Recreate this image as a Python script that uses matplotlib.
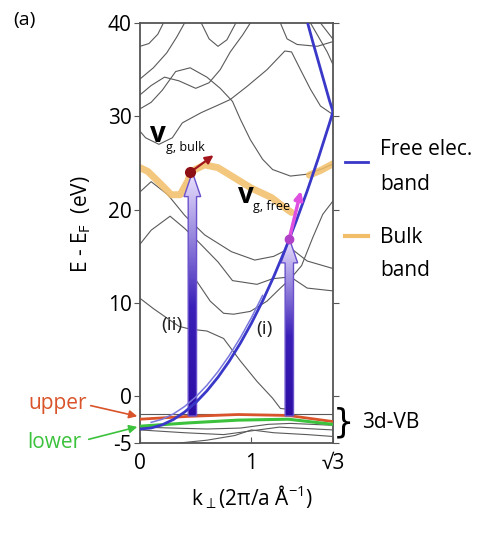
import numpy as np
import matplotlib.pyplot as plt
from matplotlib.patches import Polygon
from matplotlib.colors import LinearSegmentedColormap

plt.rcParams['font.family'] = ['Open Sans', 'DejaVu Sans']
plt.rcParams['axes.unicode_minus'] = False

# free electron band
free_k = [0, 0.1, 0.2, 0.3, 0.4, 0.5, 0.6, 0.7, 0.8, 0.9, 1.0, 1.1, 1.2, 1.3, 1.4, 1.5, 1.6, 1.7, 1.732]
free_e = [-3.5, -3.39, -3.05, -2.48, -1.69, -0.67, 0.58, 2.05, 3.75, 5.68, 7.83, 10.21,
          12.82, 15.65, 18.71, 21.99, 25.5, 29.24, 30.5]
fold_k = [1.732, 1.7, 1.65, 1.6, 1.55, 1.5]
fold_e = [30.5, 31.7, 33.8, 35.9, 38.0, 40.2]

# bulk band (orange)
bulk_k = [0, 0.07, 0.19, 0.28, 0.36, 0.43, 0.46, 0.58, 0.70, 0.85, 1.0, 1.18, 1.30, 1.36]
bulk_e = [24.5, 24.1, 22.7, 21.6, 21.6, 23.1, 24.1, 24.8, 24.5, 23.4, 22.3, 21.3, 20.2, 19.7]
bulk2_k = [1.52, 1.62, 1.73]
bulk2_e = [23.7, 24.2, 24.9]

# 3d valence bands
upper_k = [0, 0.43, 0.88, 1.33, 1.73]
upper_e = [-2.45, -2.15, -1.95, -2.05, -2.7]
lower_k = [0, 0.43, 0.88, 1.33, 1.73]
lower_e = [-3.2, -2.85, -2.55, -2.45, -3.0]

# other calculated bands (gray), (k, E) pairs
band_a = [(0, 37.5), (0.08, 37.8), (0.16, 38.8), (0.21, 40)]
band_b = [(0, 34.0), (0.12, 35.2), (0.24, 36.8), (0.33, 38.5), (0.40, 40)]
band_c = [(0.55, 40), (0.62, 38.3), (0.70, 37.5), (0.78, 38.2), (0.86, 40)]
band_d = [(0, 32.3), (0.1, 33.3), (0.22, 34.2), (0.35, 33.8), (0.5, 33.0), (0.62, 33.6),
          (0.72, 35.0), (0.81, 36.9), (0.92, 38.7), (0.99, 40)]
band_e = [(0, 28.4), (0.05, 27.7), (0.17, 27.0), (0.29, 27.7), (0.38, 29.3), (0.55, 30.4),
          (0.7, 31.2), (0.81, 31.8), (0.96, 33.2), (1.14, 35), (1.30, 37), (1.36, 36.9),
          (1.44, 35), (1.53, 32.9), (1.62, 31.1), (1.73, 30.2)]
band_f = [(0, 30.8), (0.1, 31.5), (0.2, 32.8), (0.32, 34.8), (0.45, 35.2), (0.6, 34.2),
          (0.72, 33.0), (0.83, 31.6), (0.90, 29.7), (0.99, 27.5), (1.10, 25.4), (1.19, 24.3),
          (1.35, 23.6), (1.5, 23.8), (1.64, 24.4), (1.73, 24.9)]
band_g = [(1.26, 40), (1.32, 38.3), (1.41, 37.7), (1.59, 37.5), (1.73, 38.0)]
band_h = [(1.53, 40), (1.68, 36.9), (1.73, 35.6)]
band_i = [(1.62, 40), (1.73, 38.3)]
band_j = [(0, 21.9), (0.1, 23), (0.25, 21.6), (0.4, 19.4), (0.58, 17.3), (0.82, 15.5),
          (1.03, 14.6), (1.2, 15.0), (1.35, 15.9), (1.5, 14.5), (1.73, 13.7)]
band_k = [(0, 16.3), (0.1, 17.8), (0.27, 19.3), (0.4, 18), (0.52, 16.6), (0.7, 14.4),
          (0.83, 12.4), (1.05, 12), (1.19, 12.6), (1.35, 12.8), (1.5, 11.6), (1.73, 11.3)]
band_l = [(0.5, 12.5), (0.63, 10.2), (0.75, 8.9), (0.84, 8.8), (0.99, 9.1), (1.14, 10.2),
          (1.26, 11.6), (1.35, 12.6), (1.45, 14), (1.55, 17), (1.64, 19.5), (1.73, 20.9)]
band_m = [(0, 10.5), (0.12, 9.4), (0.24, 8.4), (0.35, 7.5), (0.45, 7.2), (0.6, 7),
          (0.75, 6.2), (0.9, 3.8), (1.05, 1.6), (1.19, -0.2), (1.26, -1.3), (1.34, -1.4)]
band_n = [(0, -1.86), (1.73, -1.86)]
band_o = [(0, -3.3), (0.3, -3.4), (0.6, -3.5), (0.9, -3.4), (1.15, -3.0), (1.35, -2.9), (1.73, -3.1)]
band_p = [(0, -3.6), (0.4, -3.9), (0.75, -4.1), (1.0, -3.7), (1.25, -3.3), (1.73, -3.6)]
band_q = [(0.35, -5), (0.6, -4.7), (0.85, -4.2), (1.0, -3.6), (1.2, -3.9), (1.5, -4.1), (1.73, -4.3)]
gray_bands = [band_a, band_b, band_c, band_d, band_e, band_f, band_g, band_h, band_i,
              band_j, band_k, band_l, band_m, band_n, band_o, band_p, band_q]

# transitions (i) and (ii)
trans_k = [1.34, 0.47]
trans_bottom = [-2.1, -2.1]
trans_top = [16.9, 24.0]

W, H = 489, 533
fig = plt.figure(figsize=(W / 100, H / 100), dpi=100)
ax = fig.add_axes([140 / W, 1 - 443 / H, 193 / W, 420 / H])

for b in gray_bands:
    bk, be = zip(*b)
    ax.plot(bk, be, color='#5a5a5a', lw=0.8, zorder=1)

ax.plot(bulk_k, bulk_e, color='#f2bd68', lw=5, alpha=0.85, solid_capstyle='round', zorder=2)
ax.plot(bulk2_k, bulk2_e, color='#f2bd68', lw=5, alpha=0.85, solid_capstyle='round', zorder=2)
ax.plot(upper_k, upper_e, color='#d9542a', lw=2, zorder=3)
ax.plot(lower_k, lower_e, color='#3cc23c', lw=2.2, zorder=3)

# free electron band, drawn doubled near the bottom like the original
ax.plot(free_k, free_e, color='#3a38c8', lw=2, zorder=6)
ax.plot(free_k[1:12], [e + 0.6 for e in free_e[1:12]], color='#7a78dc', lw=1.1, zorder=6)
ax.plot(fold_k, fold_e, color='#3a38c8', lw=2, zorder=6)

# gradient arrows
arrow_cmap = LinearSegmentedColormap.from_list('arr', [(0, '#2c0ea4'), (0.45, '#3a20b8'), (1, '#ece4ff')])
grad = np.linspace(0, 1, 256).reshape(-1, 1)
bar_w, head_w, head_l = 0.075, 0.15, 2.6
for k, e0, e1 in zip(trans_k, trans_bottom, trans_top):
    verts = [(k - bar_w / 2, e0), (k + bar_w / 2, e0), (k + bar_w / 2, e1 - head_l),
             (k + head_w / 2, e1 - head_l), (k, e1), (k - head_w / 2, e1 - head_l),
             (k - bar_w / 2, e1 - head_l)]
    poly = Polygon(verts, closed=True, facecolor='none', edgecolor='#6a50cc', lw=1, zorder=5)
    ax.add_patch(poly)
    im = ax.imshow(grad, cmap=arrow_cmap, origin='lower', aspect='auto', zorder=4,
                   extent=(k - head_w / 2, k + head_w / 2, e0, e1))
    im.set_clip_path(poly)

# group velocity arrows and points
ax.annotate('', xy=(0.68, 26.0), xytext=(0.45, 24.0),
            arrowprops=dict(arrowstyle='-|>', color='#a3151d', lw=1.6, mutation_scale=12), zorder=7)
ax.annotate('', xy=(1.45, 22.3), xytext=(1.34, 16.9),
            arrowprops=dict(arrowstyle='-|>', color='#e050e0', lw=2.5, mutation_scale=12), zorder=7)
ax.plot([0.45], [24.0], 'o', color='#8c1015', ms=7, zorder=8)
ax.plot([1.34], [16.9], 'o', color='#b040c8', ms=6, zorder=8)

ax.text(0.09, 27.3, 'v', fontsize=20, fontweight='bold', va='baseline', zorder=9)
ax.text(0.23, 26.3, 'g, bulk', fontsize=9, va='baseline', zorder=9)
ax.text(0.88, 20.7, 'v', fontsize=20, fontweight='bold', va='baseline', zorder=9)
ax.text(1.01, 20.0, 'g, free', fontsize=9, va='baseline', zorder=9)
ax.text(0.29, 7.6, '(ii)', fontsize=14, ha='center', va='center', color='#222222', zorder=9)
ax.text(1.12, 7.2, '(i)', fontsize=14, ha='center', va='center', color='#222222', zorder=9)

ax.set_xlim(0, np.sqrt(3))
ax.set_ylim(-5, 40)
ax.set_xticks([0, 1, np.sqrt(3)])
ax.set_xticklabels(['0', '1', '√3'])
ax.set_yticks([-5, 0, 10, 20, 30, 40])
ax.set_yticklabels(['-5', '0', '10', '20', '30', '40'])
ax.tick_params(axis='x', direction='in', length=4, pad=7, labelsize=15, color='#555555')
ax.tick_params(axis='y', direction='out', length=4, pad=2, labelsize=15, color='#555555',
               right=True)
for s in ax.spines.values():
    s.set_color('#555555')
    s.set_linewidth(1.3)

# outside labels
fig.text(24 / W, 1 - 20 / H, '(a)', fontsize=14, ha='center', va='center')
fig.text(81 / W, 1 - 224 / H, r'E - E$_\mathregular{F}$  (eV)', fontsize=15, rotation=90,
         ha='center', va='center')
fig.text(252 / W, 1 - 497 / H, r'k$_\perp$(2π/a Å$^\mathregular{-1}$)', fontsize=15,
         ha='center', va='center')

fig.lines.append(plt.Line2D([345 / W, 368 / W], [1 - 162 / H] * 2, color='#3a38c8', lw=2,
                            transform=fig.transFigure))
fig.lines.append(plt.Line2D([345 / W, 368 / W], [1 - 236 / H] * 2, color='#f2bd68', lw=3,
                            transform=fig.transFigure))
fig.text(380 / W, 1 - 155 / H, 'Free elec.', fontsize=15, va='baseline')
fig.text(380 / W, 1 - 190 / H, 'band', fontsize=15, va='baseline')
fig.text(380 / W, 1 - 243 / H, 'Bulk', fontsize=15, va='baseline')
fig.text(380 / W, 1 - 276 / H, 'band', fontsize=15, va='baseline')

fig.text(58 / W, 1 - 404 / H, 'upper', fontsize=15, color='#d9542a', ha='center', va='center')
fig.text(54 / W, 1 - 442 / H, 'lower', fontsize=15, color='#3cc23c', ha='center', va='center')
ax.annotate('', xy=(0.0, -2.2), xytext=(88 / W, 1 - 405 / H), textcoords='figure fraction',
            arrowprops=dict(arrowstyle='-|>', color='#d9542a', lw=1.2, mutation_scale=12),
            annotation_clip=False)
ax.annotate('', xy=(0.0, -3.2), xytext=(86 / W, 1 - 440 / H), textcoords='figure fraction',
            arrowprops=dict(arrowstyle='-|>', color='#3cc23c', lw=1.2, mutation_scale=12),
            annotation_clip=False)

fig.text(343 / W, 1 - 423 / H, '}', fontsize=24, ha='center', va='center', family='DejaVu Sans')
fig.text(391 / W, 1 - 422 / H, '3d-VB', fontsize=15, ha='center', va='center')

fig.savefig('out.png', dpi=100)
